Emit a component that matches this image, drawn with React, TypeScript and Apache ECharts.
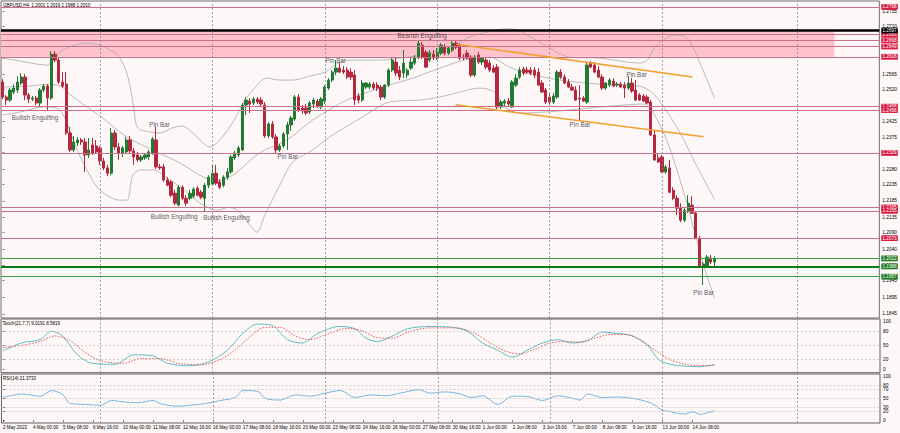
import React, { useEffect, useRef } from "react";
import * as echarts from "echarts";

const FONT = "'Liberation Sans', Arial, Helvetica, sans-serif";
const symbolName = "GBPUSD,H4";

// H4 candles, index 0 = 2 May 2022 16:00
const openP = [
  1.2542, 1.2497, 1.2488, 1.2512, 1.2518, 1.2539, 1.2557, 1.2503, 1.2491, 1.2494,
  1.2479, 1.2518, 1.2530, 1.2494, 1.2626, 1.2608, 1.2542, 1.2536, 1.2389, 1.2338,
  1.2359, 1.2368, 1.2362, 1.2323, 1.2353, 1.2350, 1.2344, 1.2305, 1.2284, 1.2268,
  1.2389, 1.2347, 1.2329, 1.2332, 1.2368, 1.2335, 1.2323, 1.2308, 1.2314, 1.2317,
  1.2329, 1.2368, 1.2287, 1.2287, 1.2248, 1.2242, 1.2208, 1.2172, 1.2226, 1.2193,
  1.2193, 1.2199, 1.2223, 1.2211, 1.2193, 1.2232, 1.2235, 1.2268, 1.2242, 1.2232,
  1.2256, 1.2272, 1.2314, 1.2323, 1.2338, 1.2473, 1.2485, 1.2479, 1.2491, 1.2488,
  1.2473, 1.2380, 1.2416, 1.2377, 1.2338, 1.2350, 1.2386, 1.2413, 1.2431, 1.2497,
  1.2464, 1.2464, 1.2452, 1.2476, 1.2485, 1.2467, 1.2485, 1.2524, 1.2548, 1.2572,
  1.2584, 1.2578, 1.2578, 1.2572, 1.2563, 1.2500, 1.2488, 1.2527, 1.2527, 1.2536,
  1.2533, 1.2527, 1.2497, 1.2533, 1.2578, 1.2602, 1.2578, 1.2569, 1.2563, 1.2584,
  1.2599, 1.2617, 1.2653, 1.2632, 1.2608, 1.2626, 1.2614, 1.2629, 1.2647, 1.2629,
  1.2638, 1.2659, 1.2653, 1.2617, 1.2629, 1.2617, 1.2563, 1.2623, 1.2602, 1.2608,
  1.2599, 1.2584, 1.2587, 1.2467, 1.2479, 1.2485, 1.2467, 1.2533, 1.2557, 1.2581,
  1.2578, 1.2578, 1.2578, 1.2572, 1.2539, 1.2518, 1.2497, 1.2482, 1.2497, 1.2572,
  1.2557, 1.2542, 1.2527, 1.2518, 1.2494, 1.2494, 1.2482, 1.2599, 1.2593, 1.2578,
  1.2557, 1.2524, 1.2533, 1.2545, 1.2533, 1.2536, 1.2533, 1.2524, 1.2539, 1.2518,
  1.2503, 1.2500, 1.2497, 1.2482, 1.2383, 1.2314, 1.2317, 1.2272, 1.2284, 1.2217,
  1.2193, 1.2163, 1.2127, 1.2154, 1.2172, 1.2148, 1.2073, 1.1989, 1.1986, 1.2013,
  1.2001,
];
const highP = [
  1.2551, 1.2503, 1.2524, 1.2536, 1.2560, 1.2569, 1.2566, 1.2509, 1.2500, 1.2500,
  1.2524, 1.2536, 1.2536, 1.2635, 1.2635, 1.2617, 1.2572, 1.2572, 1.2407, 1.2380,
  1.2377, 1.2374, 1.2374, 1.2374, 1.2374, 1.2368, 1.2350, 1.2314, 1.2293, 1.2404,
  1.2398, 1.2359, 1.2350, 1.2377, 1.2380, 1.2344, 1.2332, 1.2323, 1.2329, 1.2338,
  1.2377, 1.2407, 1.2296, 1.2296, 1.2256, 1.2248, 1.2218, 1.2232, 1.2232, 1.2202,
  1.2218, 1.2226, 1.2229, 1.2218, 1.2238, 1.2262, 1.2293, 1.2293, 1.2250, 1.2262,
  1.2284, 1.2323, 1.2335, 1.2350, 1.2479, 1.2497, 1.2494, 1.2497, 1.2497, 1.2497,
  1.2482, 1.2422, 1.2425, 1.2386, 1.2356, 1.2392, 1.2422, 1.2440, 1.2503, 1.2506,
  1.2473, 1.2476, 1.2485, 1.2494, 1.2491, 1.2497, 1.2533, 1.2554, 1.2578, 1.2608,
  1.2599, 1.2590, 1.2587, 1.2584, 1.2578, 1.2509, 1.2548, 1.2542, 1.2542, 1.2542,
  1.2542, 1.2533, 1.2536, 1.2584, 1.2614, 1.2614, 1.2590, 1.2638, 1.2584, 1.2614,
  1.2623, 1.2668, 1.2662, 1.2638, 1.2638, 1.2638, 1.2644, 1.2659, 1.2656, 1.2650,
  1.2665, 1.2665, 1.2659, 1.2626, 1.2638, 1.2623, 1.2623, 1.2632, 1.2617, 1.2614,
  1.2608, 1.2593, 1.2596, 1.2488, 1.2491, 1.2494, 1.2548, 1.2566, 1.2587, 1.2587,
  1.2587, 1.2587, 1.2587, 1.2584, 1.2548, 1.2524, 1.2506, 1.2509, 1.2578, 1.2581,
  1.2566, 1.2551, 1.2536, 1.2530, 1.2533, 1.2500, 1.2602, 1.2605, 1.2602, 1.2590,
  1.2566, 1.2542, 1.2554, 1.2554, 1.2542, 1.2542, 1.2542, 1.2560, 1.2554, 1.2548,
  1.2509, 1.2506, 1.2503, 1.2488, 1.2398, 1.2326, 1.2323, 1.2293, 1.2308, 1.2226,
  1.2202, 1.2178, 1.2163, 1.2202, 1.2199, 1.2154, 1.2079, 1.2001, 1.2022, 1.2022,
  1.2019,
];
const lowP = [
  1.2491, 1.2473, 1.2482, 1.2506, 1.2509, 1.2533, 1.2488, 1.2479, 1.2485, 1.2473,
  1.2470, 1.2512, 1.2458, 1.2488, 1.2602, 1.2536, 1.2524, 1.2383, 1.2332, 1.2332,
  1.2350, 1.2353, 1.2272, 1.2314, 1.2323, 1.2326, 1.2293, 1.2278, 1.2259, 1.2262,
  1.2338, 1.2308, 1.2317, 1.2326, 1.2326, 1.2293, 1.2302, 1.2302, 1.2308, 1.2308,
  1.2323, 1.2281, 1.2278, 1.2242, 1.2229, 1.2196, 1.2172, 1.2169, 1.2187, 1.2169,
  1.2187, 1.2193, 1.2199, 1.2190, 1.2154, 1.2223, 1.2232, 1.2232, 1.2220, 1.2226,
  1.2248, 1.2266, 1.2308, 1.2317, 1.2335, 1.2443, 1.2449, 1.2473, 1.2476, 1.2470,
  1.2374, 1.2374, 1.2371, 1.2329, 1.2332, 1.2344, 1.2338, 1.2395, 1.2425, 1.2452,
  1.2446, 1.2443, 1.2446, 1.2464, 1.2464, 1.2461, 1.2476, 1.2518, 1.2542, 1.2563,
  1.2569, 1.2566, 1.2551, 1.2548, 1.2473, 1.2479, 1.2482, 1.2521, 1.2521, 1.2518,
  1.2515, 1.2488, 1.2491, 1.2527, 1.2572, 1.2560, 1.2548, 1.2554, 1.2554, 1.2578,
  1.2593, 1.2611, 1.2611, 1.2584, 1.2602, 1.2608, 1.2608, 1.2623, 1.2623, 1.2623,
  1.2632, 1.2641, 1.2608, 1.2608, 1.2611, 1.2557, 1.2557, 1.2596, 1.2593, 1.2581,
  1.2572, 1.2569, 1.2461, 1.2461, 1.2470, 1.2470, 1.2464, 1.2527, 1.2551, 1.2563,
  1.2566, 1.2563, 1.2554, 1.2530, 1.2509, 1.2476, 1.2476, 1.2476, 1.2491, 1.2551,
  1.2536, 1.2524, 1.2515, 1.2485, 1.2428, 1.2482, 1.2476, 1.2584, 1.2569, 1.2554,
  1.2518, 1.2518, 1.2527, 1.2527, 1.2527, 1.2524, 1.2494, 1.2518, 1.2509, 1.2485,
  1.2485, 1.2482, 1.2476, 1.2380, 1.2305, 1.2299, 1.2269, 1.2266, 1.2208, 1.2187,
  1.2142, 1.2121, 1.2121, 1.2148, 1.2145, 1.2070, 1.1983, 1.1932, 1.1983, 1.1995,
  1.1988,
];
const closeP = [
  1.2497, 1.2488, 1.2518, 1.2524, 1.2542, 1.2557, 1.2503, 1.2491, 1.2494, 1.2479,
  1.2518, 1.2530, 1.2494, 1.2626, 1.2608, 1.2542, 1.2530, 1.2389, 1.2338, 1.2362,
  1.2368, 1.2362, 1.2323, 1.2338, 1.2329, 1.2332, 1.2305, 1.2284, 1.2268, 1.2389,
  1.2347, 1.2329, 1.2344, 1.2368, 1.2335, 1.2317, 1.2308, 1.2317, 1.2323, 1.2332,
  1.2371, 1.2287, 1.2284, 1.2248, 1.2232, 1.2202, 1.2178, 1.2226, 1.2193, 1.2178,
  1.2208, 1.2220, 1.2202, 1.2196, 1.2232, 1.2256, 1.2268, 1.2238, 1.2226, 1.2256,
  1.2272, 1.2317, 1.2329, 1.2344, 1.2473, 1.2488, 1.2476, 1.2491, 1.2482, 1.2476,
  1.2380, 1.2416, 1.2377, 1.2338, 1.2350, 1.2386, 1.2413, 1.2434, 1.2497, 1.2458,
  1.2455, 1.2449, 1.2479, 1.2488, 1.2470, 1.2491, 1.2527, 1.2548, 1.2572, 1.2584,
  1.2572, 1.2572, 1.2557, 1.2557, 1.2488, 1.2488, 1.2539, 1.2539, 1.2536, 1.2524,
  1.2524, 1.2497, 1.2533, 1.2578, 1.2608, 1.2569, 1.2557, 1.2599, 1.2578, 1.2602,
  1.2617, 1.2659, 1.2617, 1.2587, 1.2629, 1.2614, 1.2632, 1.2653, 1.2629, 1.2644,
  1.2659, 1.2647, 1.2614, 1.2614, 1.2614, 1.2563, 1.2617, 1.2602, 1.2614, 1.2587,
  1.2578, 1.2572, 1.2467, 1.2482, 1.2485, 1.2476, 1.2542, 1.2554, 1.2578, 1.2569,
  1.2572, 1.2569, 1.2563, 1.2533, 1.2512, 1.2482, 1.2482, 1.2500, 1.2572, 1.2557,
  1.2539, 1.2527, 1.2518, 1.2488, 1.2491, 1.2485, 1.2593, 1.2587, 1.2572, 1.2557,
  1.2524, 1.2539, 1.2548, 1.2530, 1.2536, 1.2527, 1.2524, 1.2539, 1.2515, 1.2488,
  1.2488, 1.2485, 1.2479, 1.2383, 1.2308, 1.2302, 1.2272, 1.2287, 1.2211, 1.2193,
  1.2163, 1.2127, 1.2157, 1.2178, 1.2148, 1.2073, 1.1986, 1.1995, 1.2016, 1.2001,
  1.2010,
];

// Bollinger bands: [bar index, price]
const bbUpper = [
  [0, 1.2614], [3.3, 1.2608], [11.9, 1.2593], [14, 1.2614], [16.1, 1.2638], [19.3, 1.2653],
  [22.5, 1.2659], [26, 1.2653], [28.7, 1.2638], [30.8, 1.2623], [32.7, 1.2584], [34, 1.2533],
  [35.1, 1.2458], [36.1, 1.2404], [39.3, 1.2392], [42, 1.2389], [45.2, 1.2404], [47.9, 1.241],
  [50.8, 1.2389], [53.5, 1.2359], [55.3, 1.2347], [58, 1.2368], [61.5, 1.2422], [64.7, 1.2488],
  [66.8, 1.2518], [70.5, 1.2554], [74, 1.2548], [77.5, 1.2548], [82, 1.256], [86, 1.2572],
  [90, 1.2602], [94, 1.2608], [100.7, 1.2608], [106, 1.2614], [111.3, 1.2623], [116.7, 1.2638],
  [120.7, 1.2653], [123.9, 1.2674], [127.3, 1.2687], [130.8, 1.2696], [134, 1.2702], [137.2, 1.2699],
  [141.5, 1.2674], [146, 1.2644], [151.3, 1.2617], [159.3, 1.2614], [170, 1.2599], [172.1, 1.2608],
  [174, 1.2644], [176.1, 1.2668], [179.3, 1.2683], [182.5, 1.2677], [186, 1.2602], [190, 1.2494],
];
const bbMiddle = [
  [0, 1.2527], [7.3, 1.253], [12.7, 1.2536], [15.9, 1.2527], [18, 1.2505], [22, 1.2472],
  [26, 1.2440], [33.2, 1.2377], [41.2, 1.2332], [47.3, 1.2299], [53.5, 1.2257], [56.7, 1.2245],
  [60.1, 1.2254], [63.3, 1.2278], [66.8, 1.2314], [70, 1.2338], [73.2, 1.2353], [76.7, 1.2374],
  [82.8, 1.2428], [91.9, 1.2488], [100.7, 1.2524], [109.5, 1.2554], [116.7, 1.2584], [123.3, 1.2608],
  [130, 1.2617], [135.3, 1.2587], [139.9, 1.2569], [148.7, 1.2548], [159.3, 1.2536], [170, 1.253],
  [173.2, 1.2512], [176.1, 1.2473], [180.7, 1.2392], [184.7, 1.2302], [190, 1.219],
];
const bbLower = [
  [0, 1.2443], [4.7, 1.2452], [10.8, 1.2467], [15.3, 1.2458], [19.9, 1.2338], [23.3, 1.2262],
  [26, 1.2217], [31.3, 1.2187], [33.2, 1.2187], [34.8, 1.2262], [36.7, 1.2278], [40.1, 1.2278],
  [44.7, 1.2248], [49.2, 1.2211], [52.7, 1.2178], [57.2, 1.2157], [60.7, 1.2166], [63.3, 1.2151],
  [66, 1.2112], [67.9, 1.2091], [70, 1.2142], [74, 1.2232], [77.5, 1.2302], [82.8, 1.2338],
  [87.3, 1.2377], [96.1, 1.2437], [103.3, 1.2482], [111.3, 1.2488], [116.7, 1.2497], [122, 1.2512],
  [127.3, 1.2524], [131.3, 1.2512], [134, 1.2467], [138, 1.2449], [144.7, 1.2452], [151.3, 1.2458],
  [159.3, 1.2467], [171.3, 1.2476], [174, 1.2443], [176.7, 1.2383], [179.3, 1.2302], [182, 1.2203],
  [184.7, 1.2091], [187.3, 1.1983], [190, 1.1893],
];

const stochMain = [
  [0, 38], [5, 55], [10, 62], [13, 80], [16, 70], [20, 30], [24, 12], [30, 10], [35, 30], [40, 28],
  [44, 12], [50, 7], [55, 15], [60, 40], [64, 75], [68, 95], [72, 92], [76, 62], [80, 55], [84, 75],
  [90, 90], [94, 85], [97, 65], [100, 58], [104, 70], [108, 85], [114, 90], [120, 88], [124, 80],
  [128, 55], [132, 40], [136, 25], [140, 40], [144, 55], [148, 62], [152, 55], [156, 60], [160, 78],
  [164, 75], [168, 70], [172, 50], [175, 20], [178, 10], [182, 6], [186, 5], [190, 9.0191],
];
const stochSignal = [
  [0, 45], [5, 50], [10, 58], [14, 70], [18, 60], [22, 35], [26, 18], [32, 12], [37, 22], [42, 22],
  [47, 12], [53, 9], [58, 20], [62, 40], [66, 68], [70, 88], [74, 88], [78, 70], [82, 62], [87, 75],
  [92, 86], [96, 80], [100, 66], [104, 65], [108, 78], [114, 87], [121, 87], [126, 75], [130, 55],
  [134, 38], [138, 32], [142, 42], [146, 55], [150, 58], [154, 57], [158, 65], [162, 73], [166, 73],
  [170, 62], [174, 40], [178, 20], [182, 10], [186, 7], [190, 8.5819],
];
const rsiVals = [
  [0, 52], [5, 60], [10, 55], [13, 68], [16, 58], [18, 38], [22, 36], [26, 34], [29, 45], [32, 42],
  [36, 40], [40, 45], [42, 38], [46, 32], [50, 34], [54, 38], [58, 45], [62, 52], [64, 68], [68, 66],
  [70, 50], [74, 46], [78, 58], [82, 55], [86, 62], [90, 68], [94, 52], [98, 58], [102, 56], [106, 62],
  [111, 70], [114, 62], [118, 65], [122, 60], [125, 52], [128, 56], [132, 36], [136, 55], [140, 54],
  [144, 45], [148, 56], [152, 50], [154, 46], [156, 60], [160, 52], [164, 53], [168, 50], [172, 42],
  [174, 34], [176, 22], [178, 20], [180, 15], [182, 14], [184, 19], [186, 13], [188, 17], [190, 21.3733],
];
const stochTitle = "Stoch(21,7,7) 9.0191 8.5819";
const rsiTitle = "RSI(14) 21.3733";

const dateIdx = [0, 8, 16, 24, 32, 40, 48, 56, 64, 72, 80, 88, 96, 104, 112, 120, 128, 136, 144, 152, 160, 168, 176, 184];
const dateLabels = [
  "2 May 2022", "4 May 00:00", "5 May 08:00", "6 May 16:00", "10 May 00:00", "11 May 08:00",
  "12 May 16:00", "16 May 00:00", "17 May 08:00", "18 May 16:00", "20 May 00:00", "23 May 08:00",
  "24 May 16:00", "26 May 00:00", "27 May 08:00", "30 May 16:00", "1 Jun 00:00", "2 Jun 08:00",
  "3 Jun 16:00", "7 Jun 00:00", "8 Jun 08:00", "9 Jun 16:00", "13 Jun 00:00", "14 Jun 08:00",
];
const weekIdx = [26, 56, 86, 116, 146, 176, 212];
const priceTicks = [
  1.2755, 1.271, 1.2665, 1.2615, 1.2565, 1.252, 1.247, 1.2425, 1.2375, 1.233,
  1.228, 1.2235, 1.2185, 1.2135, 1.209, 1.204, 1.199, 1.1945, 1.1895, 1.1845,
];
const stochTicks = [100, 80, 50, 20, 0];
const rsiTicks = [100, 80, 70, 50, 30, 20, 0];
const stochLevels = [80, 50, 20];
const rsiLevels = [80, 70, 50, 30, 20];

const redLevels = [1.2768, 1.2686, 1.2668, 1.2649, 1.2618, 1.2468, 1.2458, 1.2329, 1.2165, 1.2155, 1.2073];
const blackLevels = [1.2697];
const greenLevels = [1.2012, 1.1988, 1.1957];
const greenWidths = [1, 2, 1];

const zoneIdx = [-0.4, 222];
const zonePrice = [1.2697, 1.2618];

const trendLines = [
  [[121.1, 1.2656], [184.1, 1.2557]],
  [[120.9, 1.2474], [187.1, 1.2378]],
];

const annotations = [
  { text: "Bullish Engulfing", i: 8.7, p: 1.2437 },
  { text: "Pin Bar", i: 41.9, p: 1.2416 },
  { text: "Bullish Engulfing", i: 45.8, p: 1.2139 },
  { text: "Bullish Engulfing", i: 59.8, p: 1.2136 },
  { text: "Pin Bar", i: 76.1, p: 1.2318 },
  { text: "Pin Bar", i: 88.9, p: 1.2606 },
  { text: "Bearish Engulfing", i: 112, p: 1.2681 },
  { text: "Pin Bar", i: 154.1, p: 1.2416 },
  { text: "Pin Bar", i: 169.2, p: 1.2565 },
  { text: "Pin Bar", i: 187.1, p: 1.191 },
];

export default function App() {
  const ref = useRef<HTMLDivElement>(null);

  useEffect(() => {
    if (!ref.current) return;
    const chart = echarts.init(ref.current, null, { renderer: "svg" });

    const n = openP.length - 1;
    const titleText = `${symbolName}  ${openP[n].toFixed(4)} ${highP[n].toFixed(4)} ${lowP[n].toFixed(4)} ${closeP[n].toFixed(4)}`;
    const candles = openP.map((o, i) => [i, o, closeP[i], lowP[i], highP[i]]);

    const box = (v: number, bg: string) => ({
      show: true,
      position: "end",
      distance: 2,
      formatter: v.toFixed(4),
      color: "#fff",
      backgroundColor: bg,
      fontSize: 4.6,
      fontFamily: FONT,
      padding: [0.6, 1.2, 0.2, 1.2],
    });
    const weekLines = () =>
      weekIdx.map((v) => ({ xAxis: v, lineStyle: { color: "#8a8a8a", width: 0.8, type: [2, 2] } }));
    const levelLines = (arr: number[]) =>
      arr.map((v) => ({ yAxis: v, lineStyle: { color: "#bdbdbd", width: 0.7, type: [2, 2] } }));

    const levelData: any[] = [
      ...redLevels.map((v) => ({ yAxis: v, lineStyle: { color: "#c9708c", width: 1, type: "solid" }, label: box(v, "#d81b3f") })),
      ...blackLevels.map((v) => ({ yAxis: v, lineStyle: { color: "#000", width: 2.5, type: "solid" }, label: box(v, "#000") })),
      ...greenLevels.map((v, k) => ({
        yAxis: v,
        lineStyle: { color: k === 1 ? "#0d7a16" : "#3a9a45", width: greenWidths[k], type: "solid" },
        label: box(v, "#1e7b1e"),
      })),
    ];
    const trendData = trendLines.map((t) => [
      { coord: t[0], lineStyle: { color: "#f0a030", width: 1.5, type: "solid" } },
      { coord: t[1] },
    ]);

    const xBase = (gi: number) => ({
      type: "value",
      gridIndex: gi,
      min: -0.4,
      max: 234,
      axisLine: { show: false },
      splitLine: { show: false },
      axisTick: { show: false },
      axisLabel: { show: false },
    });
    const yBase = (gi: number, min: number, max: number, ticks: number[], fmt: (v: number) => string) => ({
      type: "value",
      gridIndex: gi,
      position: "right",
      min,
      max,
      axisLine: { show: false },
      splitLine: { show: false },
      axisTick: { show: true, customValues: ticks, length: 2, lineStyle: { color: "#555", width: 0.8 } },
      axisLabel: { customValues: ticks, formatter: fmt, fontSize: 4.8, color: "#000", margin: 3, fontFamily: FONT },
    });

    const option: any = {
      animation: false,
      backgroundColor: "#fdf8f7",
      grid: [
        { left: 1, top: 1, width: 879, height: 317, show: true, borderColor: "#707070", borderWidth: 1 },
        { left: 1, top: 319, width: 879, height: 53.7, show: true, borderColor: "#606060", borderWidth: 1 },
        { left: 1, top: 374, width: 879, height: 49, show: true, borderColor: "#606060", borderWidth: 1 },
      ],
      xAxis: [
        xBase(0),
        xBase(1),
        {
          ...xBase(2),
          axisTick: { show: true, customValues: dateIdx, length: 2, lineStyle: { color: "#555", width: 0.8 } },
          axisLabel: {
            show: true,
            customValues: dateIdx,
            formatter: (v: number) => dateLabels[dateIdx.indexOf(Math.round(v))] || "",
            fontSize: 4.6,
            color: "#000",
            align: "left",
            margin: 2,
            fontFamily: FONT,
          },
        },
      ],
      yAxis: [
        yBase(0, 1.18329, 1.27857, priceTicks, (v) => v.toFixed(4)),
        yBase(1, -7.8, 105.7, stochTicks, (v) => String(Math.round(v))),
        yBase(2, -6.9, 106.2, rsiTicks, (v) => String(Math.round(v))),
      ],
      graphic: [
        { type: "text", left: 3, top: 2.5, style: { text: titleText, fontSize: 4.5, fill: "#000", fontFamily: FONT } },
        { type: "text", left: 3, top: 320.5, style: { text: stochTitle, fontSize: 4.5, fill: "#000", fontFamily: FONT } },
        { type: "text", left: 3, top: 375.5, style: { text: rsiTitle, fontSize: 4.5, fill: "#000", fontFamily: FONT } },
      ],
      series: [
        {
          type: "line",
          name: "bbUpper",
          xAxisIndex: 0,
          yAxisIndex: 0,
          data: bbUpper,
          showSymbol: false,
          smooth: 0.3,
          z: 2,
          lineStyle: { color: "#a9a9a9", width: 0.8 },
          markArea: {
            silent: true,
            itemStyle: { color: "#ffc2cd" },
            data: [[{ coord: [zoneIdx[0], zonePrice[0]] }, { coord: [zoneIdx[1], zonePrice[1]] }]],
          },
        },
        {
          type: "line",
          name: "bbMiddle",
          xAxisIndex: 0,
          yAxisIndex: 0,
          data: bbMiddle,
          showSymbol: false,
          smooth: 0.3,
          z: 2,
          lineStyle: { color: "#a9a9a9", width: 0.8 },
        },
        {
          type: "line",
          name: "bbLower",
          xAxisIndex: 0,
          yAxisIndex: 0,
          data: bbLower,
          showSymbol: false,
          smooth: 0.3,
          z: 2,
          lineStyle: { color: "#a9a9a9", width: 0.8 },
        },
        {
          type: "candlestick",
          name: "GBPUSD",
          xAxisIndex: 0,
          yAxisIndex: 0,
          data: candles,
          encode: { x: 0, y: [1, 2, 3, 4] },
          barWidth: 2.8,
          z: 3,
          itemStyle: {
            color: "#237a32",
            color0: "#b3283f",
            borderColor: "#237a32",
            borderColor0: "#b3283f",
            borderWidth: 1,
          },
          markLine: {
            silent: true,
            precision: 6,
            symbol: ["none", "none"],
            label: { show: false },
            data: [...weekLines(), ...levelData, ...trendData],
          },
        },
        {
          type: "scatter",
          name: "patterns",
          xAxisIndex: 0,
          yAxisIndex: 0,
          symbolSize: 1,
          z: 6,
          itemStyle: { color: "rgba(0,0,0,0)" },
          data: annotations.map((a) => ({ value: [a.i, a.p], name: a.text })),
          label: {
            show: true,
            position: "inside",
            formatter: "{b}",
            fontSize: 6.3,
            color: "#2a2a2a",
            fontFamily: FONT,
          },
        },
        {
          type: "line",
          name: "stochMain",
          xAxisIndex: 1,
          yAxisIndex: 1,
          data: stochMain,
          showSymbol: false,
          smooth: 0.3,
          lineStyle: { color: "#4fb4c2", width: 0.9 },
          markLine: {
            silent: true,
            precision: 4,
            symbol: ["none", "none"],
            label: { show: false },
            data: [...weekLines(), ...levelLines(stochLevels)],
          },
        },
        {
          type: "line",
          name: "stochSignal",
          xAxisIndex: 1,
          yAxisIndex: 1,
          data: stochSignal,
          showSymbol: false,
          smooth: 0.3,
          lineStyle: { color: "#e04848", width: 0.9, type: [1.5, 1.5] },
        },
        {
          type: "line",
          name: "rsi",
          xAxisIndex: 2,
          yAxisIndex: 2,
          data: rsiVals,
          showSymbol: false,
          smooth: 0.3,
          lineStyle: { color: "#6aaedc", width: 0.9 },
          markLine: {
            silent: true,
            precision: 4,
            symbol: ["none", "none"],
            label: { show: false },
            data: [...weekLines(), ...levelLines(rsiLevels)],
          },
        },
      ],
    };

    chart.setOption(option);
    return () => chart.dispose();
  }, []);

  return <div ref={ref} style={{ position: "fixed", left: 0, top: 0, width: 900, height: 433 }} />;
}
